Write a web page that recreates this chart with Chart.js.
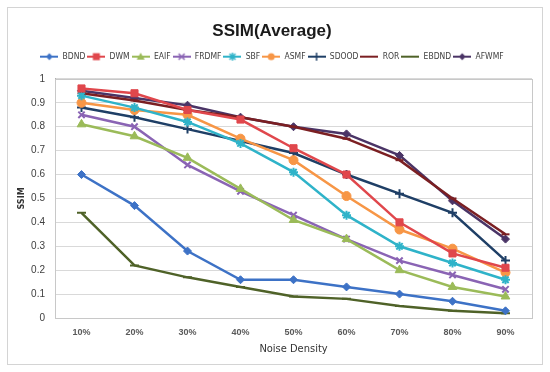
<!DOCTYPE html>
<html>
<head>
<meta charset="utf-8">
<script src="https://cdn.jsdelivr.net/npm/chart.js"></script>
<style>
html, body { margin: 0; padding: 0; background: #fff; }
#wrap { width: 550px; height: 372px; position: relative; }
</style>
</head>
<body>
<div id="wrap"><canvas id="SsimChart"></canvas></div>
<script>
// values
const noiseLevels = ['10%', '20%', '30%', '40%', '50%', '60%', '70%', '80%', '90%'];
const seriesNames = ['BDND', 'DWM', 'EAIF', 'FRDMF', 'SBF', 'ASMF', 'SDOOD', 'ROR', 'EBDND', 'AFWMF'];
const bdnd  = [0.60, 0.47, 0.28, 0.16, 0.16, 0.13, 0.10, 0.07, 0.03];
const dwm   = [0.96, 0.94, 0.87, 0.83, 0.71, 0.60, 0.40, 0.27, 0.21];
const eaif  = [0.81, 0.76, 0.67, 0.54, 0.41, 0.33, 0.20, 0.13, 0.09];
const frdmf = [0.85, 0.80, 0.64, 0.53, 0.43, 0.33, 0.24, 0.18, 0.12];
const sbf   = [0.93, 0.88, 0.82, 0.73, 0.61, 0.43, 0.30, 0.23, 0.16];
const asmf  = [0.90, 0.87, 0.85, 0.75, 0.66, 0.51, 0.37, 0.29, 0.19];
const sdood = [0.88, 0.84, 0.79, 0.74, 0.69, 0.60, 0.52, 0.44, 0.24];
const ror   = [0.94, 0.91, 0.87, 0.84, 0.80, 0.75, 0.66, 0.50, 0.35];
const ebdnd = [0.44, 0.22, 0.17, 0.13, 0.09, 0.08, 0.05, 0.03, 0.02];
const afwmf = [0.95, 0.92, 0.89, 0.84, 0.80, 0.77, 0.68, 0.49, 0.33];
const yTicks = [0, 0.1, 0.2, 0.3, 0.4, 0.5, 0.6, 0.7, 0.8, 0.9, 1];

const allValues = [bdnd, dwm, eaif, frdmf, sbf, asmf, sdood, ror, ebdnd, afwmf];
const lineColors = ['#3d72c6', '#e0474c', '#9bbb59', '#8a64b4', '#2fb3c9', '#f79646', '#1f3f66', '#7b1f22', '#4f6228', '#4a3466'];
const markers = ['rectRot', 'rect', 'triangle', 'crossRot', 'star', 'circle', 'cross', 'line', 'line', 'rectRot'];
const markerSize = [4, 5, 5, 4.5, 4.5, 4.5, 4.5, 4, 4.5, 4];

const FONT = '"Liberation Sans Narrow", "DejaVu Sans Condensed", "Liberation Sans", sans-serif';

// small line+marker icon for the legend, like the Excel legend
function makeIcon(color, style) {
    var c = document.createElement('canvas');
    c.width = 18; c.height = 10;
    var g = c.getContext('2d');
    g.strokeStyle = color; g.fillStyle = color; g.lineWidth = 2;
    g.beginPath(); g.moveTo(0, 5); g.lineTo(18, 5); g.stroke();
    var x = 9, y = 5, r = 3.5;
    g.lineWidth = 1.5;
    g.beginPath();
    if (style == 'rectRot') {
        g.moveTo(x, y - r); g.lineTo(x + r, y); g.lineTo(x, y + r); g.lineTo(x - r, y); g.closePath(); g.fill();
    } else if (style == 'rect') {
        g.fillRect(x - 3.5, y - 3.5, 7, 7);
    } else if (style == 'triangle') {
        g.moveTo(x, y - 4); g.lineTo(x + 4, y + 3); g.lineTo(x - 4, y + 3); g.closePath(); g.fill();
    } else if (style == 'crossRot') {
        g.moveTo(x - 3, y - 3); g.lineTo(x + 3, y + 3); g.moveTo(x + 3, y - 3); g.lineTo(x - 3, y + 3); g.stroke();
    } else if (style == 'star') {
        g.moveTo(x - 3, y - 3); g.lineTo(x + 3, y + 3); g.moveTo(x + 3, y - 3); g.lineTo(x - 3, y + 3);
        g.moveTo(x, y - 4); g.lineTo(x, y + 4); g.stroke();
    } else if (style == 'circle') {
        g.arc(x, y, 3.5, 0, Math.PI * 2); g.fill();
    } else if (style == 'cross') {
        g.moveTo(x, y - 4); g.lineTo(x, y + 4); g.stroke();
    }
    return c;
}
const icons = seriesNames.map(function (n, i) { return makeIcon(lineColors[i], markers[i]); });

const datasets = seriesNames.map(function (name, i) {
    return {
        label: name,
        data: allValues[i],
        borderColor: lineColors[i],
        backgroundColor: lineColors[i],
        borderWidth: 2.5,
        pointStyle: markers[i],
        pointRadius: markerSize[i],
        pointBorderWidth: (markers[i] == 'crossRot' || markers[i] == 'star' || markers[i] == 'cross' || markers[i] == 'line') ? 2 : 1,
        pointHoverRadius: markerSize[i],
        tension: 0
    };
});

// outer frame of the chart + plot area border
const framePlugin = {
    id: 'frame',
    beforeLayout: function (chart) {
        // leave a little room under the legend
        var lg = chart.legend;
        if (lg && !lg._padded) {
            var fit = lg.fit;
            lg.fit = function () { fit.call(this); this.height += 8; };
            lg._padded = true;
        }
    },
    beforeDraw: function (chart) {
        var ctx = chart.ctx;
        ctx.save();
        ctx.fillStyle = '#fff';
        ctx.fillRect(0, 0, chart.width, chart.height);
        ctx.strokeStyle = '#d4d4d4';
        ctx.lineWidth = 1;
        ctx.strokeRect(7.5, 7.5, 535, 357);
        ctx.restore();
    },
    beforeDatasetsDraw: function (chart) {
        var a = chart.chartArea, ctx = chart.ctx;
        ctx.save();
        ctx.strokeStyle = '#c8c8c8';
        ctx.lineWidth = 1;
        ctx.strokeRect(Math.round(a.left) + 0.5, Math.round(a.top) + 0.5, Math.round(a.right - a.left), Math.round(a.bottom - a.top));
        ctx.restore();
    }
};

const ctx = document.getElementById('SsimChart').getContext('2d');
new Chart(ctx, {
    type: 'line',
    data: { labels: noiseLevels, datasets: datasets },
    plugins: [framePlugin],
    options: {
        responsive: true,
        maintainAspectRatio: false,
        animation: false,
        layout: { padding: { left: 12, right: 18, top: 12, bottom: 12 } },
        plugins: {
            title: {
                display: true,
                text: 'SSIM(Average)',
                color: '#1a1a1a',
                font: { family: '"Liberation Sans", sans-serif', size: 17, weight: 'bold' },
                padding: { top: 9, bottom: 9 }
            },
            legend: {
                display: true,
                position: 'top',
                labels: {
                    usePointStyle: true,
                    pointStyleWidth: 18,
                    padding: 2,
                    color: '#404040',
                    font: { family: FONT, size: 8.5 },
                    generateLabels: function (chart) {
                        return chart.data.datasets.map(function (ds, i) {
                            return { text: ds.label, pointStyle: icons[i], datasetIndex: i, fontColor: '#404040',
                                     lineWidth: 0, strokeStyle: 'transparent', fillStyle: 'transparent', hidden: false };
                        });
                    }
                }
            },
            tooltip: { enabled: false }
        },
        scales: {
            x: {
                offset: true,
                grid: { display: false, drawTicks: false },
                border: { display: true, color: '#b0b0b0' },
                ticks: { color: '#595959', font: { family: '"Liberation Sans", sans-serif', size: 9, weight: 'bold' }, padding: 9 },
                title: { display: true, text: 'Noise Density', color: '#333', font: { family: FONT, size: 11 }, padding: { top: 4 } },
                afterFit: function (s) { s.height = 42; }
            },
            y: {
                min: 0, max: 1,
                afterBuildTicks: function (s) { s.ticks = yTicks.map(function (v) { return { value: v }; }); },
                grid: { color: '#d9d9d9', drawTicks: false },
                border: { display: true, color: '#b0b0b0' },
                ticks: { color: '#404040', font: { family: '"Liberation Sans", sans-serif', size: 10 }, padding: 10,
                         callback: function (v) { return String(Math.round(v * 10) / 10); } },
                title: { display: true, text: 'SSIM', color: '#333', font: { family: FONT, size: 9, weight: 'bold' }, padding: { bottom: 0 } },
                afterFit: function (s) { s.width = 43; }
            }
        }
    }
});
</script>
</body>
</html>
